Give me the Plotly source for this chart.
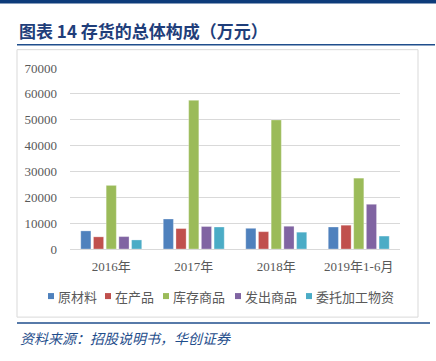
import plotly.graph_objects as go

categories = ["2016年", "2017年", "2018年", "2019年1-6月"]
series_names = ["原材料", "在产品", "库存商品", "发出商品", "委托加工物资"]
raw_materials = [7000, 11600, 8000, 8500]
wip = [4700, 7900, 6700, 9200]
finished_goods = [24600, 57500, 49900, 27400]
goods_shipped = [4800, 8700, 8800, 17300]
consigned = [3500, 8500, 6500, 5000]
y_ticks = [0, 10000, 20000, 30000, 40000, 50000, 60000, 70000]

colors = ["#4F81BD", "#C0504D", "#9BBB59", "#8064A2", "#4BACC6"]
values = [raw_materials, wip, finished_goods, goods_shipped, consigned]

W, H = 436, 361
L, R, T, B = 70, 400, 68.3, 249

fig = go.Figure()
for name, vals, c in zip(series_names, values, colors):
    fig.add_trace(go.Bar(x=categories, y=vals, name=name,
                         marker=dict(color=c, line=dict(width=0.6, color="rgba(255,255,255,0.5)"))))

serif = "Liberation Serif, Noto Sans CJK SC, serif"
fig.update_layout(
    width=W, height=H,
    margin=dict(l=L, r=W - R, t=T, b=H - B, pad=0),
    paper_bgcolor="white", plot_bgcolor="white",
    barmode="group", bargap=0.23, bargroupgap=0.2,
    showlegend=False,
    xaxis=dict(showgrid=False, showline=False, ticks="", automargin=False,
               tickfont=dict(family=serif, size=13, color="#595959"),
               ticklabelstandoff=8),
    yaxis=dict(range=[0, 70000], tickvals=y_ticks, tickformat="d", showgrid=True,
               automargin=False,
               gridcolor="#D9D9D9", gridwidth=1, zeroline=True,
               zerolinecolor="#D9D9D9", zerolinewidth=1, showline=False,
               tickfont=dict(family=serif, size=13, color="#595959"),
               ticklabelstandoff=12),
)

def px_x(x):
    return (x - L) / (R - L)
def px_y(y):
    return (B - y) / (B - T)

fig.add_shape(type="rect", xref="paper", yref="paper",
              x0=px_x(0), x1=px_x(W), y0=px_y(0), y1=px_y(4),
              fillcolor="#0D3B7A", line=dict(width=0), layer="above")
fig.add_shape(type="line", xref="paper", yref="paper",
              x0=px_x(17), x1=px_x(435), y0=px_y(45), y1=px_y(45),
              line=dict(color="#1F4E8C", width=1.5))
fig.add_shape(type="rect", xref="paper", yref="paper",
              x0=px_x(17), x1=px_x(418), y0=px_y(50), y1=px_y(317),
              line=dict(color="#D9D9D9", width=1), fillcolor="rgba(0,0,0,0)", layer="below")
fig.add_shape(type="line", xref="paper", yref="paper",
              x0=px_x(17), x1=px_x(430), y0=px_y(323), y1=px_y(323),
              line=dict(color="#1F4E8C", width=1.5))

# legend (drawn in pixel layout)
legend_sq_x = [48, 105, 163, 235, 306]
for name, c, sx in zip(series_names, colors, legend_sq_x):
    fig.add_shape(type="rect", xref="paper", yref="paper",
                  x0=px_x(sx), x1=px_x(sx + 6), y0=px_y(299), y1=px_y(293),
                  fillcolor=c, line=dict(width=0))
    fig.add_annotation(xref="paper", yref="paper", x=px_x(sx + 8), y=px_y(296),
                       xanchor="left", yanchor="middle", showarrow=False,
                       text=name,
                       font=dict(family="Noto Sans CJK SC", size=13, color="#595959"))

fig.add_annotation(xref="paper", yref="paper", x=px_x(17), y=px_y(31),
                   xanchor="left", yanchor="middle", showarrow=False,
                   text="<b>图表 14 存货的总体构成（万元）</b>",
                   font=dict(family="Noto Sans CJK SC", size=17, color="#1F3E7A"))
fig.add_annotation(xref="paper", yref="paper", x=px_x(18), y=px_y(338),
                   xanchor="left", yanchor="middle", showarrow=False,
                   text="<i>资料来源：招股说明书，华创证券</i>",
                   font=dict(family="Noto Sans CJK SC", size=14, color="#1F4E8C"))

fig.write_html("out.html", config={"displayModeBar": False},
               post_script="document.body.style.margin='0';document.body.style.overflow='hidden';")
